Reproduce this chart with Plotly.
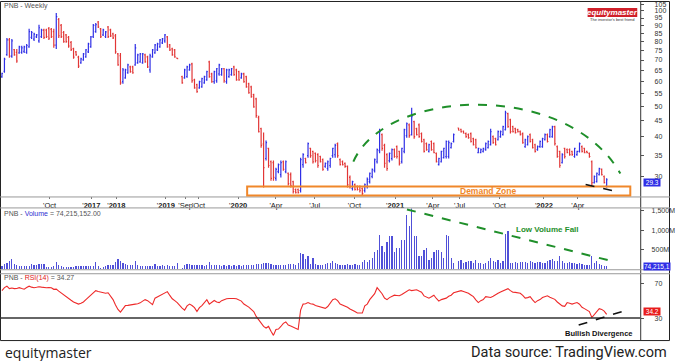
import plotly.graph_objects as go

W, H = 675, 361

# ---------------- data (weekly bars, PNB) ----------------
open_ = [61.9, 64.5, 72.8, 81.0, 72.0, 75.5, 74.0, 73.7, 74.0, 74.5,
         74.0, 77.0, 82.5, 81.5, 82.8, 80.5, 83.0, 87.0, 87.0, 88.0,
         87.5, 86.0, 78.0, 94.0, 90.0, 85.5, 84.0, 82.5, 79.5, 76.0,
         74.3, 71.5, 68.6, 70.1, 71.6, 74.3, 77.0, 83.0, 86.0, 92.3,
         87.8, 84.0, 83.0, 89.0, 87.1, 84.6, 83.4, 73.2, 72.2, 59.8,
         61.5, 63.8, 66.6, 66.6, 67.6, 68.6, 69.1, 68.6, 72.7, 71.6,
         65.2, 71.6, 73.7, 75.4, 77.0, 79.3, 80.4, 82.8, 78.1, 75.9,
         75.4, 71.0, None, 62.0, 61.5, 62.0, 65.2, 68.1, 60.6, 58.5,
         57.2, 57.6, 59.3, 60.6, 69.1, 63.3, 59.8, 60.2, 63.3, 62.9,
         65.7, 59.8, 62.0, 62.9, 66.6, 65.2, 64.3, 61.5, 63.3, 62.0,
         58.9, 57.6, 54.4, 52.8, 46.0, 42.5, 38.0, 34.2, 36.8, 33.4,
         33.2, 29.6, 31.1, 30.4, 33.4, 31.1, 30.7, 30.4, 28.9, 27.3,
         27.3, 27.1, 32.7, 34.2, 34.9, 36.8, 36.0, 35.5, 35.2, 34.7,
         33.9, 32.3, 31.8, 32.5, 34.9, 35.2, 38.1, 33.9, 33.4, 33.0,
         32.3, 29.8, 27.5, 28.3, 27.9, 27.9, 27.5, 27.1, 27.9, 28.9,
         30.0, 31.3, 33.4, 36.2, 40.7, 37.6, 35.2, 33.7, 34.2, 36.5,
         37.3, 36.0, 33.4, 36.0, 40.4, 43.7, 40.7, 44.7, 42.5, 43.7,
         41.0, 39.2, 38.1, 36.0, 38.7, 38.1, 35.5, 32.7, 33.4, 34.4,
         34.7, 34.7, 37.0, 38.7, None, 42.7, 42.3, 41.7, 41.0, 40.7,
         41.0, 39.5, 39.2, 35.7, 35.7, 36.0, 36.5, 37.0, 37.8, 40.1,
         39.5, 39.2, 40.1, 40.7, 42.2, 47.4, 45.4, 43.1, 42.5, 42.2,
         41.6, 41.0, 37.3, 37.8, 40.7, 39.2, 37.8, 36.5, 37.3, 37.3,
         39.2, 40.7, 40.1, 40.1, 43.1, 37.3, 36.0, 33.2, 36.8, 36.5,
         36.5, 36.0, 34.7, 35.2, 36.0, 37.3, 36.8, 36.0, 35.5, 33.4,
         28.7, 28.9, 30.4, 31.6, 30.0, 28.0]
high = [63.8, 71.1, 82.2, 82.2, 81.6, 75.9, 75.9, 77.6, 77.6, 77.6,
        78.7, 87.8, 86.5, 85.3, 84.6, 90.4, 87.8, 87.8, 87.8, 89.0,
        88.4, 87.8, 98.6, 95.0, 91.0, 86.5, 84.6, 83.4, 80.4, 76.5,
        74.8, 72.2, 71.1, 73.7, 75.9, 79.3, 83.4, 91.0, 91.7, 93.0,
        88.4, 87.8, 86.5, 89.7, 87.8, 85.3, 84.6, 73.7, 73.7, 66.1,
        65.7, 68.1, 67.1, 67.1, 78.7, 73.2, 73.7, 73.7, 73.2, 72.2,
        73.2, 75.9, 78.7, 79.3, 81.6, 82.2, 84.6, 83.4, 78.7, 76.5,
        75.9, 71.1, None, 62.4, 65.7, 67.1, 68.1, 68.6, 61.1, 58.9,
        60.2, 61.5, 62.4, 64.7, 69.6, 63.8, 64.7, 66.1, 68.1, 66.1,
        66.1, 65.7, 65.7, 66.1, 67.1, 65.7, 64.7, 63.8, 63.8, 62.4,
        59.3, 58.0, 54.8, 53.2, 46.7, 42.8, 41.3, 39.0, 37.0, 33.7,
        33.7, 32.0, 33.0, 33.7, 33.7, 33.7, 30.9, 30.9, 29.1, 27.5,
        27.5, 34.4, 35.5, 34.4, 38.4, 37.0, 36.2, 35.7, 35.5, 34.9,
        34.2, 33.2, 33.7, 34.4, 37.0, 38.1, 38.4, 34.2, 33.7, 33.2,
        32.5, 30.2, 29.1, 28.5, 28.1, 28.1, 27.7, 28.5, 29.8, 30.9,
        31.8, 34.2, 36.8, 42.5, 41.0, 38.1, 35.5, 35.7, 36.8, 36.8,
        37.6, 36.2, 37.0, 42.5, 44.4, 44.1, 49.5, 45.0, 42.8, 44.1,
        41.3, 39.5, 38.4, 38.1, 39.0, 38.4, 35.7, 34.4, 36.2, 37.0,
        39.0, 39.0, 38.4, 41.0, None, 42.8, 42.5, 41.9, 41.3, 41.0,
        41.3, 39.8, 39.5, 37.0, 36.8, 37.0, 38.4, 39.0, 42.5, 40.4,
        39.8, 41.9, 41.9, 43.4, 48.4, 47.7, 45.7, 43.4, 42.8, 42.5,
        41.9, 41.3, 39.5, 40.4, 41.0, 39.5, 38.1, 37.6, 39.0, 39.8,
        41.0, 41.0, 42.5, 43.4, 43.4, 37.6, 36.2, 35.5, 37.0, 36.8,
        36.8, 36.2, 37.0, 36.2, 38.4, 37.6, 37.0, 36.2, 35.7, 33.7,
        30.2, 30.9, 32.0, 31.8, 30.2, 29.6]
low = [61.5, 63.8, 72.2, 71.1, 71.1, 72.2, 68.6, 73.2, 73.2, 73.7,
       73.2, 76.5, 81.6, 80.4, 82.2, 79.3, 82.2, 81.6, 82.2, 81.0,
       82.2, 76.5, 75.9, 82.2, 82.2, 79.3, 79.3, 76.5, 74.8, 70.6,
       72.2, 66.1, 68.1, 69.6, 71.1, 73.7, 76.5, 82.2, 85.3, 88.4,
       82.2, 83.4, 82.2, 82.2, 82.8, 81.6, 73.2, 67.1, 58.5, 58.9,
       61.1, 63.3, 63.8, 63.3, 67.1, 68.1, 68.6, 68.1, 68.6, 66.1,
       63.8, 71.1, 73.2, 74.8, 76.5, 78.7, 79.3, 76.5, 74.8, 72.2,
       71.1, 70.6, None, 58.9, 61.1, 61.5, 64.7, 59.3, 56.8, 55.2,
       56.8, 57.2, 58.9, 60.2, 61.5, 59.3, 58.9, 59.3, 62.4, 62.4,
       59.3, 58.9, 61.5, 62.4, 62.4, 60.2, 60.2, 61.1, 59.3, 57.2,
       54.8, 53.2, 49.5, 46.0, 41.3, 37.0, 27.7, 33.7, 32.0, 29.1,
       29.1, 29.1, 30.7, 29.8, 31.3, 30.7, 28.1, 27.7, 26.5, 26.5,
       26.5, 26.7, 32.0, 33.0, 34.4, 34.4, 33.0, 33.2, 32.0, 33.2,
       31.3, 32.0, 31.3, 32.0, 34.4, 34.4, 34.4, 32.5, 32.5, 32.0,
       27.7, 27.5, 27.1, 27.1, 27.1, 26.7, 26.1, 26.7, 27.5, 28.5,
       29.6, 30.9, 33.0, 35.5, 36.2, 32.0, 31.3, 33.2, 33.7, 34.4,
       34.2, 32.5, 33.0, 35.5, 39.8, 39.8, 40.4, 39.5, 40.4, 39.8,
       38.4, 35.7, 36.2, 35.7, 36.2, 35.5, 33.2, 32.5, 33.2, 34.2,
       34.2, 34.2, 36.8, 38.4, None, 41.9, 41.3, 41.0, 39.8, 39.5,
       38.4, 37.6, 36.8, 35.5, 35.5, 35.7, 36.2, 36.8, 37.6, 38.1,
       37.6, 39.0, 39.8, 40.4, 41.9, 42.8, 41.0, 41.3, 41.0, 41.3,
       40.4, 38.1, 37.0, 37.6, 38.4, 36.8, 35.7, 36.2, 37.0, 37.0,
       39.0, 38.4, 39.8, 39.8, 37.6, 34.4, 32.0, 33.0, 34.2, 35.5,
       34.9, 34.9, 34.4, 34.9, 35.7, 35.7, 35.5, 35.5, 34.4, 28.1,
       28.5, 28.7, 30.2, 30.2, 28.5, 27.7]
close = [63.5, 70.5, 81.0, 72.0, 80.5, 72.7, 69.5, 77.0, 76.5, 77.0,
         77.8, 86.0, 85.5, 84.5, 84.0, 88.5, 87.0, 82.5, 83.0, 82.0,
         83.0, 78.0, 96.0, 83.5, 83.0, 80.0, 80.0, 77.5, 75.5, 71.5,
         72.7, 67.0, 70.6, 73.2, 75.4, 78.7, 82.8, 90.0, 90.5, 89.0,
         83.0, 87.1, 85.9, 83.0, 83.4, 82.2, 74.3, 67.6, 59.3, 65.2,
         65.2, 67.6, 64.3, 63.8, 76.5, 72.7, 73.2, 73.2, 69.1, 66.6,
         72.2, 75.4, 78.1, 78.7, 81.0, 81.6, 84.0, 77.0, 75.4, 72.7,
         71.6, 70.7, None, 59.3, 65.2, 66.6, 67.6, 60.2, 57.2, 55.6,
         59.8, 61.1, 62.0, 64.3, 62.0, 59.8, 64.3, 65.7, 67.6, 65.7,
         60.2, 65.2, 65.2, 65.7, 62.9, 60.6, 60.6, 63.3, 59.8, 57.6,
         55.2, 53.6, 49.8, 46.7, 41.6, 37.6, 32.0, 38.4, 32.5, 29.6,
         29.8, 31.6, 32.7, 33.2, 31.6, 33.4, 28.5, 28.1, 26.9, 26.7,
         26.7, 33.9, 35.2, 33.2, 38.1, 34.9, 33.4, 33.7, 32.5, 33.4,
         31.6, 33.0, 33.4, 34.2, 36.8, 37.6, 34.9, 32.7, 32.7, 32.3,
         28.3, 27.9, 28.9, 27.3, 27.3, 27.1, 26.5, 28.3, 29.4, 30.7,
         31.6, 33.9, 36.5, 41.6, 36.8, 33.0, 31.8, 35.5, 36.5, 34.7,
         34.7, 33.0, 36.8, 42.2, 44.1, 40.4, 46.4, 40.1, 40.7, 40.1,
         38.7, 36.0, 36.5, 37.8, 36.5, 35.7, 33.4, 34.2, 36.0, 36.8,
         38.7, 38.4, 38.1, 40.7, None, 42.0, 41.5, 41.1, 40.1, 39.8,
         38.7, 37.8, 37.0, 36.8, 36.5, 36.8, 38.1, 38.7, 41.6, 38.4,
         37.8, 41.6, 41.6, 43.1, 47.7, 43.1, 41.6, 41.6, 41.3, 41.6,
         40.7, 38.4, 39.2, 40.1, 38.7, 37.0, 36.0, 37.3, 38.7, 39.5,
         40.7, 38.7, 42.2, 43.1, 38.1, 34.7, 32.5, 35.2, 34.7, 35.7,
         35.2, 35.2, 36.8, 36.0, 38.1, 36.0, 35.7, 35.7, 34.7, 28.7,
         30.0, 30.7, 31.8, 30.4, 28.7, 29.3]
volume_m = [85, 130, 170, 215, 275, 128, 110, 90, 85, 85,
            85, 90, 145, 110, 100, 145, 130, 128, 60, 60,
            70, 85, 190, 100, 85, 70, 65, 60, 60, 70,
            75, 85, 85, 85, 85, 85, 85, 90, 190, 85,
            30, 60, 85, 100, 100, 110, 180, 255, 200, 150,
            128, 110, 100, 100, 215, 110, 85, 85, 85, 85,
            85, 85, 128, 90, 85, 110, 85, 100, 85, 85,
            85, 170, None, 25, 110, 128, 128, 110, 110, 110,
            110, 100, 85, 110, 190, 110, 100, 110, 100, 85,
            100, 85, 100, 85, 100, 85, 100, 85, 100, 110,
            110, 100, 110, 128, 128, 128, 150, 170, 170, 140,
            110, 100, 100, 110, 110, 110, 128, 140, 140, 110,
            150, 430, 400, 255, 340, 128, 300, 128, 110, 110,
            110, 128, 170, 170, 200, 170, 140, 100, 120, 120,
            130, 120, 110, 130, 120, 120, 180, 230, 180, 250,
            300, 450, 500, 870, 600, 450, 700, 850, 850, 450,
            550, 550, 750, 750, 1400, 1100, 1630, 850, 850, 350,
            350, 500, 550, 250, 300, 450, 500, 500, 450, 300,
            870, 850, 300, 150, None, 200, 250, 150, 180, 220,
            220, 150, 250, 150, 150, 130, 150, 200, 300, 200,
            180, 250, 170, 200, 900, 980, 150, 170, 190, 170,
            190, 180, 190, 170, 200, 180, 170, 180, 180, 170,
            170, 220, 250, 270, 200, 220, 330, 200, 170, 150,
            190, 150, 150, 130, 150, 130, 110, 100, 120, 330,
            170, 200, 130, 100, 90, 74]
rsi = [61.5, 65.0, 66.6, 63.8, 64.5, 63.8, 64.0, 64.9, 64.0, 63.2,
       65.0, 66.6, 65.5, 64.9, 65.3, 65.9, 65.5, 64.9, 64.9, 65.0,
       64.9, 63.0, 63.2, 61.0, 59.1, 57.0, 54.6, 53.0, 50.5, 48.5,
       47.5, 46.1, 47.0, 48.5, 51.2, 53.5, 56.3, 59.0, 61.5, 60.5,
       59.7, 58.5, 58.5, 59.1, 55.0, 51.2, 45.0, 40.0, 36.8, 41.0,
       44.4, 44.6, 44.8, 45.0, 46.0, 46.5, 47.5, 49.5, 51.2, 50.0,
       47.5, 45.4, 52.9, 54.5, 56.3, 58.0, 59.5, 60.4, 56.0, 52.2,
       50.0, 47.8, None, 41.5, 39.2, 44.0, 46.1, 44.5, 42.0, 37.5,
       42.0, 44.4, 48.5, 51.2, 46.1, 48.0, 50.2, 48.5, 47.8, 50.0,
       51.2, 52.2, 52.5, 52.9, 52.5, 52.2, 51.0, 49.5, 46.1, 44.5,
       42.6, 40.0, 37.5, 32.0, 28.5, 23.8, 20.5, 18.7, 20.5, 15.0,
       10.2, 17.0, 17.5, 20.4, 24.0, 25.6, 22.1, 21.0, 19.4, 18.0,
       17.0, 39.2, 46.1, 46.5, 47.8, 46.5, 46.1, 44.4, 43.5, 42.6,
       41.5, 41.2, 43.3, 47.0, 51.2, 52.2, 50.0, 46.1, 45.0, 44.4,
       42.5, 40.5, 38.5, 37.5, 35.8, 35.8, 35.8, 44.0, 46.1, 51.2,
       54.5, 58.0, 64.9, 61.5, 58.0, 53.0, 51.2, 53.5, 54.6, 56.3,
       56.0, 55.6, 57.0, 59.1, 61.0, 62.5, 61.5, 62.0, 62.5, 61.0,
       59.7, 55.5, 54.0, 52.9, 54.5, 56.3, 52.5, 49.5, 51.2, 52.0,
       52.9, 55.0, 56.3, 59.0, None, 60.5, 61.5, 60.5, 59.7, 58.5,
       56.5, 54.6, 51.0, 47.8, 50.0, 51.2, 54.6, 54.0, 53.6, 55.0,
       56.3, 58.5, 60.0, 61.5, 62.5, 63.8, 61.5, 59.7, 59.5, 59.1,
       58.5, 56.0, 52.9, 53.5, 54.6, 51.0, 47.8, 50.0, 51.2, 53.6,
       54.5, 55.6, 54.0, 52.9, 51.5, 48.5, 46.1, 44.0, 43.5, 47.8,
       47.0, 46.1, 47.0, 47.8, 46.0, 42.5, 40.9, 39.0, 37.5, 30.7,
       34.0, 37.5, 40.9, 40.0, 38.0, 34.27]

x_tick_pos = [19.3, 36.2, 46.3, 66.4, 74.4, 79.6, 95.7, 111.0, 126.7,
              142.8, 159.3, 174.6, 185.4, 201.5, 219.6, 233.3]
x_tick_text = ["'Oct", "'<b>2017</b>", "'<b>2018</b>", "'<b>2019</b>", "'Sep",
               "'Oct", "'<b>2020</b>", "'Apr", "'Jul", "'Oct", "'<b>2021</b>",
               "'Apr", "'Jul", "'Oct", "'<b>2022</b>", "'Apr"]
price_ticks = [30, 35, 40, 45, 50, 55, 60, 65, 70, 75, 80, 85, 90, 95, 100, 105]
vol_ticks = [500, 1000, 1500]
vol_tick_text = ["500M", "1,000M", "1,500M"]
rsi_ticks = [30, 70]

# ---------------- helpers ----------------
def px(x):
    return x / W


def py(y):
    return 1 - y / H


BLUE = "#2f2fe6"
RED = "#e23636"
VOL = "#5050d8"
GREEN = "#1f8f2a"
ORANGE = "#f0872a"
FONT = "Liberation Sans, Arial, sans-serif"

idx_all = list(range(len(close)))
keep = [i for i in idx_all if close[i] is not None]

fig = go.Figure()
fig.add_trace(go.Ohlc(
    x=keep,
    open=[open_[i] for i in keep], high=[high[i] for i in keep],
    low=[low[i] for i in keep], close=[close[i] for i in keep],
    increasing=dict(line=dict(color=BLUE, width=1.2)),
    decreasing=dict(line=dict(color=RED, width=1.2)),
    tickwidth=0.4, hoverinfo="skip", xaxis="x", yaxis="y", showlegend=False))
fig.add_trace(go.Bar(
    x=keep, y=[volume_m[i] for i in keep], marker=dict(color=VOL, line=dict(width=0)),
    width=0.5, hoverinfo="skip", xaxis="x2", yaxis="y2", showlegend=False))
fig.add_trace(go.Scatter(
    x=idx_all, y=rsi, mode="lines", line=dict(color="#ee2a2a", width=1.1),
    connectgaps=True, hoverinfo="skip", xaxis="x3", yaxis="y3", showlegend=False))

XR = [-0.8, 258.6]
XD = [0, 645 / W]
common_x = dict(range=XR, domain=XD, showgrid=False, zeroline=False, showline=False,
                fixedrange=True)
tickfont = dict(family=FONT, size=7, color="#333")

fig.update_layout(
    width=W, height=H, margin=dict(l=0, r=0, t=0, b=0),
    paper_bgcolor="white", plot_bgcolor="white", bargap=0,
    xaxis=dict(**common_x, anchor="y", tickvals=x_tick_pos, ticktext=x_tick_text,
               ticks="outside", ticklen=2, tickcolor="#777", tickangle=0,
               tickfont=dict(family=FONT, size=7.5, color="#222"),
               rangeslider=dict(visible=False)),
    xaxis2=dict(**common_x, anchor="y2", showticklabels=False),
    xaxis3=dict(**common_x, anchor="y3", showticklabels=False),
    yaxis=dict(domain=[py(196), py(1)], type="log", range=[1.41413, 2.02835],
               side="right", anchor="x", tickvals=price_ticks,
               ticktext=[str(v) for v in price_ticks], ticks="outside", ticklen=3,
               tickcolor="#555", tickfont=tickfont, ticklabelstandoff=9,
               showgrid=False, zeroline=False, fixedrange=True),
    yaxis2=dict(domain=[py(269), py(208)], range=[0, 1564], side="right", anchor="x2",
                tickvals=vol_ticks, ticktext=vol_tick_text, ticks="outside", ticklen=3,
                tickcolor="#555", tickfont=tickfont, ticklabelstandoff=6,
                showgrid=False, zeroline=False, fixedrange=True),
    yaxis3=dict(domain=[py(340), py(274)], range=[4.86, 80.3], side="right", anchor="x3",
                tickvals=rsi_ticks, ticktext=[str(v) for v in rsi_ticks], ticks="outside",
                ticklen=3, tickcolor="#555", tickfont=tickfont, ticklabelstandoff=9,
                showgrid=False, zeroline=False, fixedrange=True),
)

shapes = []


def line(x0, y0, x1, y1, color="#444", width=1, dash=None):
    d = dict(type="line", xref="paper", yref="paper", x0=px(x0), y0=py(y0),
             x1=px(x1), y1=py(y1), line=dict(color=color, width=width))
    if dash:
        d["line"]["dash"] = dash
    shapes.append(d)


# frames / separators
shapes.append(dict(type="rect", xref="paper", yref="paper", x0=px(0.5), y0=py(340.5),
                   x1=px(674.5), y1=py(0.5), line=dict(color="#222", width=1)))
line(645.5, 0, 645.5, 340.5, "#333", 1)
line(0, 196.5, 675, 196.5, "#999", 1)
line(0, 207.5, 675, 207.5, "#999", 1)
line(0, 269.5, 675, 269.5, "#999", 1)
line(0, 273.5, 675, 273.5, "#999", 1)
# RSI 30 line
shapes.append(dict(type="line", xref="x3", yref="y3", x0=XR[0], x1=XR[1], y0=30, y1=30,
                   line=dict(color="#333", width=1.5)))
# demand zone
shapes.append(dict(type="rect", xref="paper", yref="paper", x0=px(249), y0=py(195),
                   x1=px(635), y1=py(186), line=dict(color=ORANGE, width=2)))
# green arc
arc = "M {},{} C {},{} {},{} {},{}".format(px(356), py(161), px(389), py(87), px(571),
                                             py(79), px(625), py(173))
shapes.append(dict(type="path", xref="paper", yref="paper", path=arc,
                   line=dict(color=GREEN, width=2, dash="dash")))
line(590, 184, 621, 191, "#111", 1.6, "dash")
line(410, 209, 621, 262, GREEN, 2, "dash")
line(583, 325, 628, 311, "#111", 1.6, "dash")
# logo
shapes.append(dict(type="rect", xref="paper", yref="paper", x0=px(592), y0=py(16),
                   x1=px(642), y1=py(7), fillcolor="#d0202a", line=dict(width=0)))

fig.update_layout(shapes=shapes)

ann = []


def text(x, y, s, size=7, color="#444", xanchor="left", bold=False, family=FONT,
         bg=None):
    d = dict(xref="paper", yref="paper", x=px(x), y=py(y), text=("<b>%s</b>" % s) if bold else s,
             showarrow=False, xanchor=xanchor, yanchor="middle",
             font=dict(family=family, size=size, color=color))
    if bg:
        d["bgcolor"] = bg
        d["borderpad"] = 0
    ann.append(d)


text(2, 5, "PNB - Weekly", 7, "#555")
text(617, 11.5, "<i>equitymaster</i>", 8, "white", "center", True)
text(617, 19, "The investor's best friend", 4, "#333", "center")
text(492, 190.5, "Demand Zone", 8.5, ORANGE, "center", True)
text(648, 182, " 29.3 ", 6.5, "white", "left", False, FONT, BLUE)
text(2, 213, "PNB - <span style='color:#3030d0'>Volume</span> = 74,215,152.00", 7, "#555")
text(552, 229, "Low Volume Fall", 8, GREEN, "center", True)
text(648, 266, "74,215,1", 6.5, "white", "left", False, FONT, BLUE)
text(648, 311, " 34.2 ", 6.5, "white", "left", False, FONT, "#e81c1c")
text(2, 278, "PNB - <span style='color:#e02020'>RSI(14)</span> = 34.27", 7, "#555")
text(603, 333, "Bullish Divergence", 7.5, "#111", "center", True)
text(3, 352, "equitymaster", 14, "#222", "left", False, "Open Sans, Noto Sans, sans-serif")
text(674, 352, "Data source: TradingView.com", 14.5, "#222", "right", False,
     "Liberation Sans Narrow, Arial Narrow, Roboto, sans-serif")
fig.update_layout(annotations=ann)

fig.write_html("out.html", config={"displayModeBar": False, "staticPlot": True},
               post_script="document.body.style.margin='0';"
               "document.body.style.overflow='hidden';")
